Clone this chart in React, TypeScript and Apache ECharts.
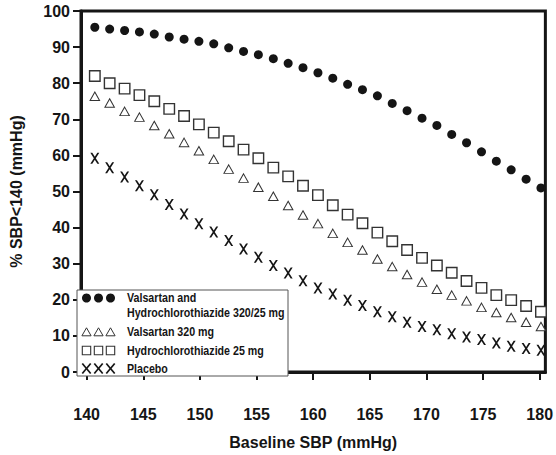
import React, { useEffect, useRef } from "react";
import * as echarts from "echarts";

const baselineSBP = [
  140.72, 142.03, 143.35, 144.66, 145.97, 147.29, 148.6, 149.91, 151.22, 152.54,
  153.85, 155.16, 156.48, 157.79, 159.1, 160.42, 161.73, 163.04, 164.35, 165.67,
  166.98, 168.29, 169.61, 170.92, 172.23, 173.54, 174.86, 176.17, 177.48, 178.8,
  180.11,
];
const combo = [
  95.5, 95.0, 94.6, 94.2, 93.6, 92.8, 92.2, 91.6, 90.9, 89.8, 88.8, 87.9, 86.8,
  85.5, 84.3, 82.9, 81.4, 79.7, 78.2, 76.5, 74.4, 72.4, 70.3, 68.3, 65.8, 63.5,
  61.0, 58.4, 56.0, 53.4, 51.0,
];
const valsartan = [
  76.4, 74.5, 72.2, 70.6, 68.3, 66.0, 63.6, 61.3, 58.9, 56.2, 53.7, 51.2, 48.7,
  46.1, 43.5, 41.1, 38.4, 35.9, 33.8, 31.3, 29.2, 27.0, 24.9, 22.9, 21.3, 19.7,
  17.9, 16.5, 15.1, 13.8, 12.6,
];
const hctz = [
  82.0, 80.0, 78.5, 76.7, 75.0, 72.9, 70.9, 68.6, 66.3, 63.9, 61.6, 59.2, 56.6,
  54.2, 51.6, 49.0, 46.2, 43.6, 41.2, 38.6, 36.2, 33.8, 31.6, 29.5, 27.5, 25.2,
  23.3, 21.3, 19.9, 18.3, 16.7,
];
const placebo = [
  59.2, 56.6, 54.0, 51.6, 49.1, 46.4, 43.8, 41.1, 38.8, 36.4, 34.1, 31.8, 29.5,
  27.4, 25.3, 23.3, 21.6, 19.9, 18.4, 16.7, 15.3, 13.8, 12.6, 11.7, 10.6, 9.7,
  9.0, 8.0, 7.1, 6.5, 6.0,
];
const xTicks = [140, 145, 150, 155, 160, 165, 170, 175, 180];
const seriesNames = [
  "Valsartan and Hydrochlorothiazide 320/25 mg",
  "Valsartan 320 mg",
  "Hydrochlorothiazide 25 mg",
  "Placebo",
];

const FONT = '"Liberation Sans", Arial, Helvetica, sans-serif';
const INK = "#151515";
const X_PATH = "path://M0,0L2.2,0L10,12L7.8,12ZM7.8,0L10,0L2.2,12L0,12Z";

function pairs(ys: number[]) {
  return ys.map((y, i) => [baselineSBP[i], y]);
}

function legendGraphics() {
  const els: any[] = [];
  els.push({
    type: "rect",
    shape: { x: 77, y: 290, width: 211, height: 86 },
    style: { fill: "#fff", stroke: "#555", lineWidth: 1 },
    z: 10,
  });
  const cx = [86.5, 98.5, 110.5];
  const rows = [298, 332, 350.5, 368.5];
  cx.forEach((x) =>
    els.push({ type: "circle", shape: { cx: x, cy: rows[0], r: 4.5 }, style: { fill: INK }, z: 11 })
  );
  cx.forEach((x) =>
    els.push({
      type: "polygon",
      shape: { points: [[x, rows[1] - 4.2], [x + 4.6, rows[1] + 3.8], [x - 4.6, rows[1] + 3.8]] },
      style: { fill: "#fff", stroke: "#333", lineWidth: 1 },
      z: 11,
    })
  );
  cx.forEach((x) =>
    els.push({
      type: "rect",
      shape: { x: x - 4.2, y: rows[2] - 4.2, width: 8.4, height: 8.4 },
      style: { fill: "#fff", stroke: "#333", lineWidth: 1.1 },
      z: 11,
    })
  );
  cx.forEach((x) => {
    els.push({
      type: "line",
      shape: { x1: x - 4.2, y1: rows[3] - 5, x2: x + 4.2, y2: rows[3] + 5 },
      style: { stroke: INK, lineWidth: 1.7 },
      z: 11,
    });
    els.push({
      type: "line",
      shape: { x1: x + 4.2, y1: rows[3] - 5, x2: x - 4.2, y2: rows[3] + 5 },
      style: { stroke: INK, lineWidth: 1.7 },
      z: 11,
    });
  });
  const texts: [string, number][] = [
    ["Valsartan and", 298],
    ["Hydrochlorothiazide 320/25 mg", 313],
    [seriesNames[1], 332],
    [seriesNames[2], 350.5],
    [seriesNames[3], 368.5],
  ];
  texts.forEach(([t, y]) =>
    els.push({
      type: "text",
      x: 127,
      y,
      scaleX: 0.79,
      style: {
        text: t,
        fill: INK,
        fontFamily: FONT,
        fontWeight: "bold",
        fontSize: 13.5,
        verticalAlign: "middle",
        align: "left",
      },
      z: 11,
    })
  );
  return els;
}

export default function App() {
  const ref = useRef<HTMLDivElement>(null);
  useEffect(() => {
    if (!ref.current) return;
    const chart = echarts.init(ref.current, undefined, { renderer: "svg" });
    const common = { silent: true, emphasis: { disabled: true } };
    chart.setOption({
      animation: false,
      backgroundColor: "#fff",
      grid: {
        left: 76,
        right: 10,
        top: 11,
        bottom: 79,
        show: true,
        borderColor: INK,
        borderWidth: 3,
        backgroundColor: "transparent",
      },
      xAxis: {
        type: "value",
        min: 139.5,
        max: 180.5,
        name: "Baseline SBP (mmHg)",
        nameLocation: "middle",
        nameGap: 62,
        nameTextStyle: { fontFamily: FONT, fontWeight: "bold", fontSize: 16, color: INK },
        axisLine: { show: true, onZero: false, lineStyle: { color: INK, width: 3 } },
        axisTick: { show: true, length: 8, customValues: xTicks, lineStyle: { color: INK, width: 2 } },
        axisLabel: {
          customValues: xTicks,
          margin: 34,
          fontFamily: FONT,
          fontWeight: "bold",
          fontSize: 16,
          color: INK,
        },
        splitLine: { show: false },
      },
      yAxis: {
        type: "value",
        min: 0,
        max: 100,
        interval: 10,
        name: "% SBP<140 (mmHg)",
        nameLocation: "middle",
        nameGap: 57,
        nameTextStyle: { fontFamily: FONT, fontWeight: "bold", fontSize: 16, color: INK },
        axisLine: { show: true, lineStyle: { color: INK, width: 3 } },
        axisTick: { show: true, length: 8, lineStyle: { color: INK, width: 2 } },
        axisLabel: { margin: 11, fontFamily: FONT, fontWeight: "bold", fontSize: 16, color: INK },
        splitLine: { show: false },
      },
      series: [
        {
          ...common,
          name: seriesNames[0],
          type: "scatter",
          clip: false,
          symbol: "circle",
          symbolSize: 9,
          itemStyle: { color: INK, opacity: 1 },
          data: pairs(combo),
        },
        {
          ...common,
          name: seriesNames[1],
          type: "scatter",
          clip: false,
          symbol: "triangle",
          symbolSize: [9.5, 8.5],
          itemStyle: { color: "#fff", borderColor: "#333", borderWidth: 1, opacity: 1 },
          data: pairs(valsartan),
        },
        {
          ...common,
          name: seriesNames[2],
          type: "scatter",
          clip: false,
          symbol: "rect",
          symbolSize: 10.5,
          itemStyle: { color: "#fff", borderColor: "#333", borderWidth: 1.4, opacity: 1 },
          data: pairs(hctz),
        },
        {
          ...common,
          name: seriesNames[3],
          type: "scatter",
          clip: false,
          symbol: X_PATH,
          symbolSize: [9, 11],
          itemStyle: { color: INK, opacity: 1 },
          data: pairs(placebo),
        },
      ],
      graphic: legendGraphics(),
    });
    return () => chart.dispose();
  }, []);
  return (
    <div
      ref={ref}
      style={{ position: "fixed", left: 0, top: 0, width: 556, height: 455, background: "#fff" }}
    />
  );
}
